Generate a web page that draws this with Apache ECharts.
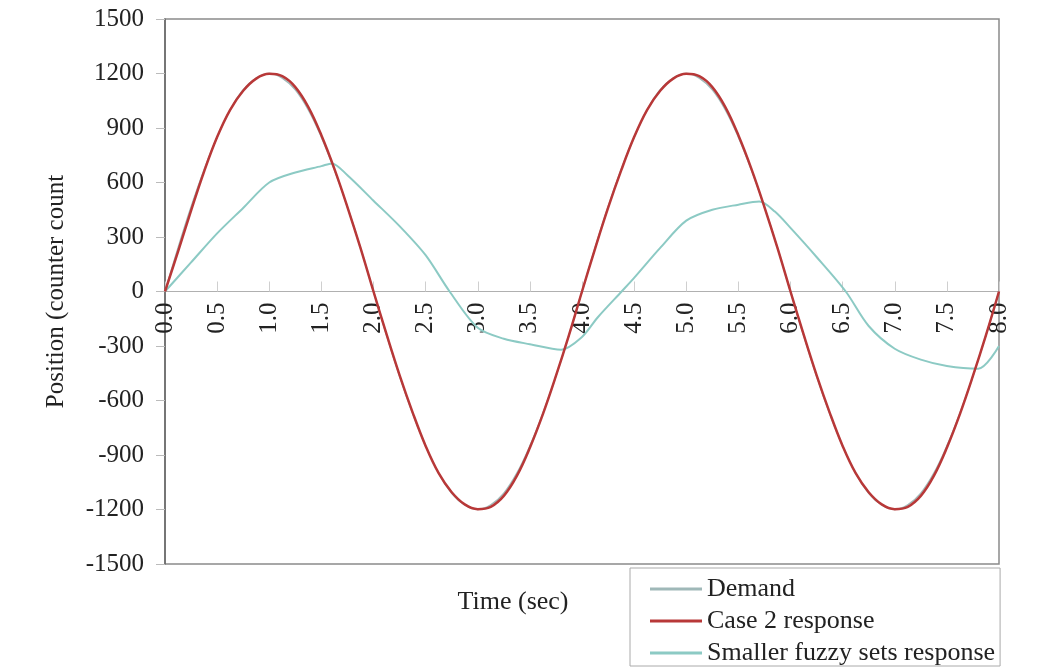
<!DOCTYPE html>
<html>
<head>
<meta charset="utf-8">
<script src="https://cdn.jsdelivr.net/npm/echarts@6/dist/echarts.min.js"></script>
<style>html,body{margin:0;padding:0;background:#fff;}#c{width:1037px;height:672px;}</style>
</head>
<body>
<div id="c"></div>
<script>
const timeT = [0,0.125,0.25,0.375,0.5,0.625,0.75,0.875,1.0,1.125,1.25,1.375,1.5,1.625,1.75,1.875,
  2.0,2.125,2.25,2.375,2.5,2.625,2.75,2.875,3.0,3.125,3.25,3.375,3.5,3.625,3.75,3.875,
  4.0,4.125,4.25,4.375,4.5,4.625,4.75,4.875,5.0,5.125,5.25,5.375,5.5,5.625,5.75,5.875,
  6.0,6.125,6.25,6.375,6.5,6.625,6.75,6.875,7.0,7.125,7.25,7.375,7.5,7.625,7.75,7.875,8.0];
const demandV = [0,240,465,670,850,1000,1110,1175,1200,1175,1110,1000,850,670,465,240,
  0,-240,-465,-670,-850,-1000,-1110,-1175,-1200,-1175,-1110,-1000,-850,-670,-465,-240,
  0,240,465,670,850,1000,1110,1175,1200,1175,1110,1000,850,670,465,240,
  0,-240,-465,-670,-850,-1000,-1110,-1175,-1200,-1175,-1110,-1000,-850,-670,-465,-240,0];
const case2V = [0,220,445,660,850,1000,1105,1172,1198,1185,1125,1015,860,675,465,240,
  0,-235,-460,-665,-850,-1000,-1105,-1172,-1198,-1185,-1125,-1015,-860,-675,-465,-240,
  0,235,460,665,850,1000,1105,1172,1198,1185,1125,1015,860,675,465,240,
  0,-235,-460,-665,-850,-1000,-1105,-1172,-1198,-1185,-1125,-1015,-860,-675,-465,-240,0];

const fuzzyT = [0,0.25,0.5,0.75,1.0,1.25,1.5,1.6,1.75,2.0,2.25,2.5,2.73,3.0,3.25,3.5,3.8,4.0,4.15,4.38,4.5,4.75,5.0,5.25,5.5,5.7,5.85,6.0,6.25,6.53,6.75,7.0,7.25,7.5,7.8,8.0];
const fuzzyV = [0,160,320,460,600,655,690,705,640,500,360,200,0,-200,-260,-290,-320,-250,-143,0,75,240,390,450,478,495,440,350,190,0,-190,-315,-375,-410,-425,-300];

const xTicks = {min: 0, max: 8, interval: 0.5};
const yTicks = {min: -1500, max: 1500, interval: 300};

function pairs(t, v) { return t.map((x, i) => [x, v[i]]); }

const gridTop = 19, gridBottom = 108, H = 672;
const zeroOffset = -((H - gridBottom - gridTop) / 2);

const chart = echarts.init(document.getElementById('c'));
const serif = 'Liberation Serif, Times New Roman, serif';
chart.setOption({
  animation: false,
  backgroundColor: '#fff',
  grid: {left: 165, right: 38, top: gridTop, bottom: gridBottom, show: true, borderColor: '#8a8a8a', borderWidth: 1.5, backgroundColor: 'transparent'},
  xAxis: {
    type: 'value', min: xTicks.min, max: xTicks.max, interval: xTicks.interval,
    position: 'bottom', offset: zeroOffset,
    axisLine: {onZero: false, lineStyle: {color: '#b0b0b0', width: 1}},
    axisTick: {show: true, inside: true, length: 10, lineStyle: {color: '#cfcfcf'}},
    splitLine: {show: false},
    axisLabel: {rotate: 90, margin: 11, color: '#222', fontFamily: serif, fontSize: 25, formatter: v => v.toFixed(1)}
  },
  yAxis: {
    type: 'value', min: yTicks.min, max: yTicks.max, interval: yTicks.interval,
    name: 'Position (counter count', nameLocation: 'middle', nameGap: 96,
    nameTextStyle: {fontFamily: serif, fontSize: 25, color: '#222'},
    axisLine: {show: true, lineStyle: {color: '#666', width: 1.5}},
    axisTick: {show: true, length: 9, lineStyle: {color: '#bbb'}},
    splitLine: {show: false},
    axisLabel: {margin: 21, color: '#222', fontFamily: serif, fontSize: 25, formatter: v => String(v)}
  },
  legend: {
    orient: 'vertical', left: 630, top: 568,
    padding: [8, 5, 0, 20], itemGap: 6, itemWidth: 52, itemHeight: 3, icon: 'rect',
    borderColor: '#aaa', borderWidth: 1, backgroundColor: '#fff',
    textStyle: {fontFamily: serif, fontSize: 26, color: '#222'},
    data: ['Demand', 'Case 2 response', 'Smaller fuzzy sets response']
  },
  graphic: [{
    type: 'text', x: 513, y: 602,
    style: {text: 'Time (sec)', fontFamily: serif, fontSize: 26, fill: '#222', textAlign: 'center', textVerticalAlign: 'middle'}
  }],
  series: [
    {name: 'Demand', type: 'line', data: pairs(timeT, demandV), smooth: 0.4, showSymbol: false,
     lineStyle: {color: '#9fb8b8', width: 1.5}, itemStyle: {color: '#9fb8b8'}, z: 1},
    {name: 'Case 2 response', type: 'line', data: pairs(timeT, case2V), smooth: 0.4, showSymbol: false,
     lineStyle: {color: '#b83838', width: 2.5}, itemStyle: {color: '#b83838'}, z: 3},
    {name: 'Smaller fuzzy sets response', type: 'line', data: pairs(fuzzyT, fuzzyV), smooth: 0.3, showSymbol: false,
     lineStyle: {color: '#8ccac4', width: 2}, itemStyle: {color: '#8ccac4'}, z: 2}
  ]
});
</script>
</body>
</html>
